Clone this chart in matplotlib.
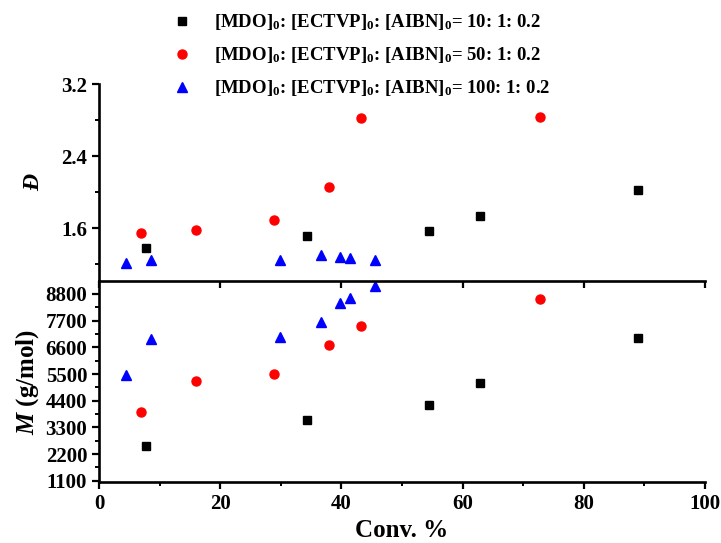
import matplotlib
matplotlib.use('Agg')
import matplotlib.pyplot as plt
from matplotlib.ticker import MultipleLocator
from matplotlib.lines import Line2D

plt.rcParams['font.family'] = ['Liberation Serif', 'DejaVu Serif']
plt.rcParams['font.weight'] = 'bold'
plt.rcParams['mathtext.fontset'] = 'custom'
plt.rcParams['mathtext.rm'] = 'Liberation Serif:bold'
plt.rcParams['mathtext.it'] = 'Liberation Serif:italic:bold'
plt.rcParams['mathtext.bf'] = 'Liberation Serif:bold'

# conversion (%) for each series
conv_10 = [7.8, 34.3, 54.4, 62.9, 88.9]
conv_50 = [7.0, 16.0, 28.8, 37.9, 43.3, 72.7]
conv_100 = [4.4, 8.5, 29.8, 36.7, 39.7, 41.5, 45.6]

# dispersity
d_10 = [1.38, 1.51, 1.57, 1.74, 2.03]
d_50 = [1.55, 1.58, 1.69, 2.06, 2.82, 2.83]
d_100 = [1.21, 1.25, 1.25, 1.30, 1.28, 1.27, 1.25]

# molar mass (g/mol)
m_10 = [2540, 3620, 4240, 5120, 7000]
m_50 = [3920, 5220, 5510, 6700, 7490, 8590]
m_100 = [5440, 6940, 7040, 7650, 8430, 8630, 9130]

labels = ['[MDO]$_0$: [ECTVP]$_0$: [AIBN]$_0$= 10: 1: 0.2',
          '[MDO]$_0$: [ECTVP]$_0$: [AIBN]$_0$= 50: 1: 0.2',
          '[MDO]$_0$: [ECTVP]$_0$: [AIBN]$_0$= 100: 1: 0.2']

fig = plt.figure(figsize=(7.21, 5.43), dpi=100)
ax2 = fig.add_axes([0.1373, 0.1129, 0.8405, 0.3687])
ax1 = fig.add_axes([0.1373, 0.4816, 0.8405, 0.3637])
ax1.patch.set_visible(False)

sq = dict(marker='s', color='black', ms=6, ls='none')
ci = dict(marker='o', color='red', ms=6.5, ls='none')
tr = dict(marker='^', color='blue', ms=7.5, ls='none')

ax1.plot(conv_10, d_10, **sq)
ax1.plot(conv_50, d_50, **ci)
ax1.plot(conv_100, d_100, **tr)
ax2.plot(conv_10, m_10, **sq)
ax2.plot(conv_50, m_50, **ci)
ax2.plot(conv_100, m_100, **tr, clip_on=False)

for ax in (ax1, ax2):
    ax.set_xlim(0, 100)
    ax.spines['right'].set_visible(False)
    ax.spines['top'].set_visible(False)
    for s in ax.spines.values():
        s.set_linewidth(1.9)
    ax.tick_params(which='major', length=5, width=1.6, labelsize=15, direction='out')
    ax.tick_params(which='minor', length=3, width=1.4, direction='out')

ax1.set_ylim(1.01, 3.2)
ax1.yaxis.set_major_locator(MultipleLocator(0.8))
ax1.yaxis.set_minor_locator(MultipleLocator(0.4))
ax1.xaxis.set_major_locator(MultipleLocator(20))
ax1.tick_params(axis='x', labelbottom=False)

ax2.set_ylim(1060, 9315)
ax2.set_yticks([1100, 2200, 3300, 4400, 5500, 6600, 7700, 8800])
ax2.yaxis.set_minor_locator(MultipleLocator(550))
ax2.xaxis.set_major_locator(MultipleLocator(20))
ax2.xaxis.set_minor_locator(MultipleLocator(10))

for lab in ax1.get_yticklabels() + ax2.get_yticklabels() + ax2.get_xticklabels():
    lab.set_fontweight('bold')

ax1.set_ylabel('Đ', fontsize=17, fontweight='bold', fontstyle='italic', labelpad=12)
ax2.set_ylabel(r'$M$ (g/mol)', fontsize=18, fontweight='bold', labelpad=3)
ax2.set_xlabel('Conv. %', fontsize=18, fontweight='bold', labelpad=4)

handles = [Line2D([], [], **sq), Line2D([], [], **ci), Line2D([], [], **tr)]
fig.legend(handles, labels, loc='upper left', bbox_to_anchor=(0.226, 0.995),
           frameon=False, fontsize=13.5, handlelength=1.0, handletextpad=1.2,
           labelspacing=0.7, borderpad=0)

fig.savefig('out.png', dpi=100)
